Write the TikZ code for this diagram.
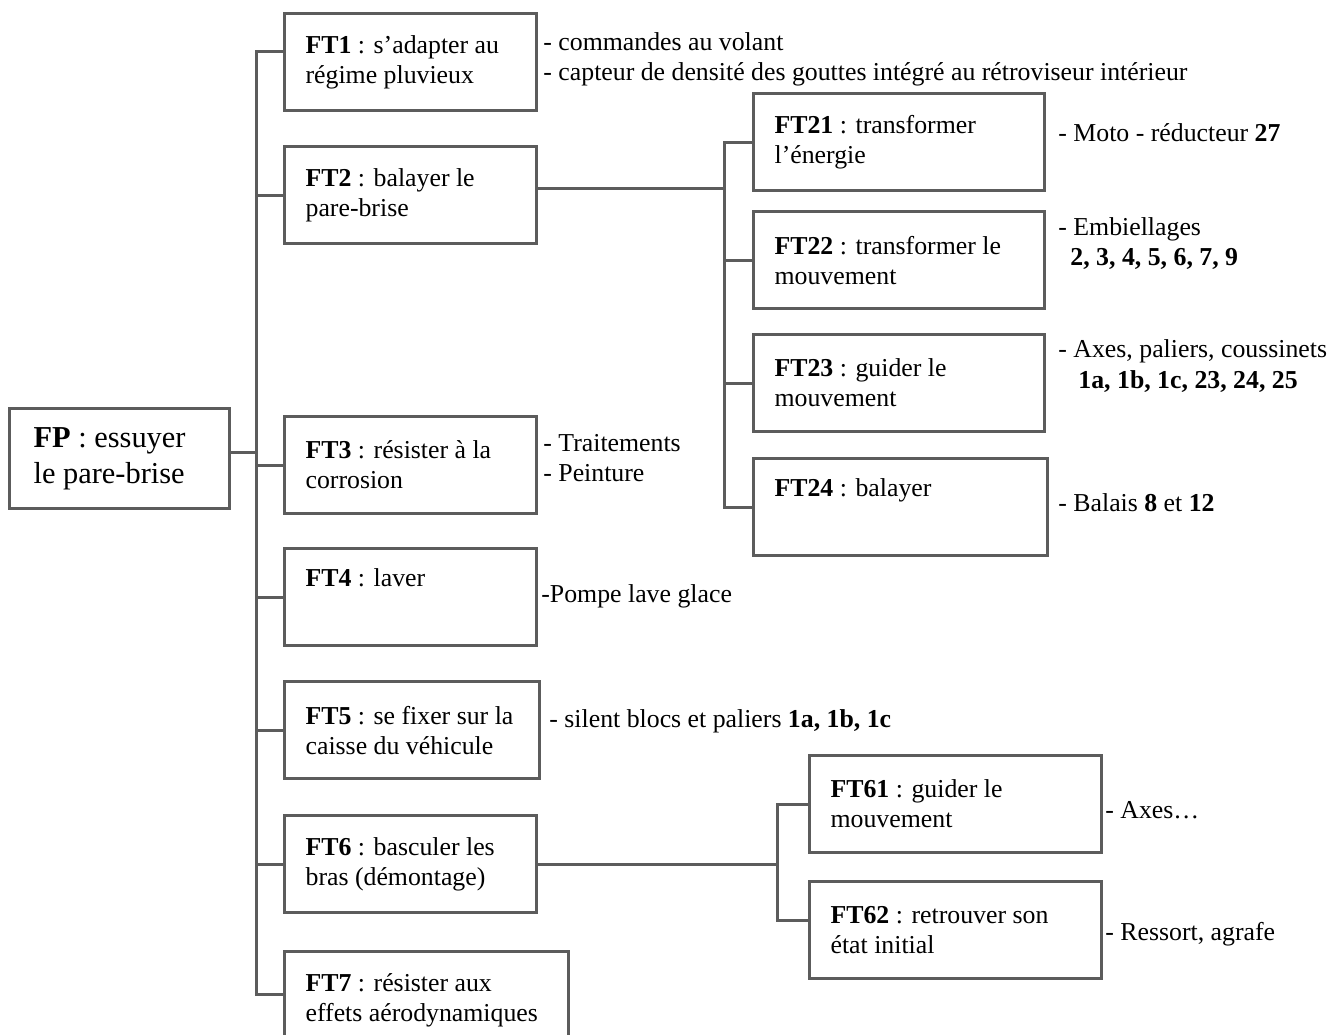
\documentclass[tikz,border=0pt]{standalone}
\usepackage{fontspec}
\setmainfont{Liberation Serif}
\definecolor{scangray}{gray}{0.36}
\newcommand{\boxfont}{\fontsize{12.9}{15}\selectfont}
\begin{document}
\begin{tikzpicture}[x=0.5pt, y=-0.5pt,
  fbox/.style={draw=scangray, line width=1.6pt, anchor=north west, minimum height=48.5pt, inner xsep=10.5pt, align=flush left, font=\boxfont},
  link/.style={draw=scangray, line width=1.5pt, line cap=rect},
  note/.style={anchor=base west, inner sep=0pt, font=\boxfont}]
\useasboundingbox (0,0) rectangle (1341,1035);
\clip (0,0) rectangle (1341,1035);
%main function:
\node[fbox, text width=86pt, inner xsep=12pt, minimum height=50pt, font=\fontsize{15.2}{18}\selectfont] (fp) at (8,407) {\textbf{FP} : essuyer\\le pare-brise};
%technical functions:
\node[fbox, text width=105pt] (ft1) at (283,12) {\textbf{FT1} : s’adapter au\\régime pluvieux};
\node[fbox, text width=105pt] (ft2) at (283,145) {\textbf{FT2} : balayer le\\pare-brise};
\node[fbox, text width=105pt] (ft3) at (283,415) {\textbf{FT3} : résister à la\\corrosion};
\node[fbox, text width=105pt] (ft4) at (283,547) {\textbf{FT4} : laver\\\strut};
\node[fbox, text width=106.5pt] (ft5) at (283,680) {\textbf{FT5} : se fixer sur la\\caisse du véhicule};
\node[fbox, text width=105pt] (ft6) at (283,814) {\textbf{FT6} : basculer les\\bras (démontage)};
\node[fbox, text width=121pt] (ft7) at (283,950) {\textbf{FT7} : résister aux\\effets aérodynamiques};
%sub-functions of FT2:
\node[fbox, text width=124.5pt] (ft21) at (752,92) {\textbf{FT21} : transformer\\l’énergie};
\node[fbox, text width=124.5pt] (ft22) at (752,210) {\textbf{FT22} : transformer le\\mouvement};
\node[fbox, text width=124.5pt] (ft23) at (752,333) {\textbf{FT23} : guider le\\mouvement};
\node[fbox, text width=126pt] (ft24) at (752,457) {\textbf{FT24} : balayer\\\strut};
%sub-functions of FT6:
\node[fbox, text width=125pt] (ft61) at (808,754) {\textbf{FT61} : guider le\\mouvement};
\node[fbox, text width=125pt] (ft62) at (808,880) {\textbf{FT62} : retrouver son\\état initial};
%main bus:
\coordinate (bus) at (256,0);
\coordinate (a0) at ([yshift=3pt]fp.east);
\coordinate (a1) at ([yshift=5.5pt]ft1.west);
\coordinate (a7) at ([yshift=2.75pt]ft7.west);
\draw[link] (a0) -- (bus |- a0);
\draw[link] (a1) -- (bus |- a1) -- (bus |- a7) -- (a7);
\foreach \n in {ft2,ft3,ft4,ft5,ft6}
  \draw[link] (bus |- \n.west) -- (\n.west);
%bus of FT2:
\coordinate (bus2) at (724,0);
\coordinate (a2) at ([yshift=3.5pt]ft2.east);
\draw[link] (a2) -- (bus2 |- a2);
\draw[link] (ft21.west) -- (bus2 |- ft21.west) -- (bus2 |- ft24.west) -- (ft24.west);
\foreach \n in {ft22,ft23}
  \draw[link] (bus2 |- \n.west) -- (\n.west);
%bus of FT6:
\coordinate (bus6) at (777,0);
\coordinate (a62) at ([yshift=5pt]ft62.west);
\draw[link] (ft6.east) -- (bus6 |- ft6.east);
\draw[link] (ft61.west) -- (bus6 |- ft61.west) -- (bus6 |- a62) -- (a62);
%solutions:
\node[note] (n1a) at (543,50) {- commandes au volant};
\node[note] (n1b) at (543,80) {- capteur de densité des gouttes intégré au rétroviseur intérieur};
\node[note] (n21) at (1058,141) {- Moto - réducteur \textbf{27}};
\node[note] (n22a) at (1058,235) {- Embiellages};
\node[note] (n22b) at (1070,265) {\textbf{2, 3, 4, 5, 6, 7, 9}};
\node[note] (n23a) at (1058,357) {- Axes, paliers, coussinets};
\node[note] (n23b) at (1078,388) {\textbf{1a, 1b, 1c, 23, 24, 25}};
\node[note] (n24) at (1058,511) {- Balais \textbf{8} et \textbf{12}};
\node[note] (n3a) at (543,451) {- Traitements};
\node[note] (n3b) at (543,481) {- Peinture};
\node[note] (n4) at (541,602) {-Pompe lave glace};
\node[note] (n5) at (549,727) {- silent blocs et paliers \textbf{1a, 1b, 1c}};
\node[note] (n61) at (1105,818) {- Axes…};
\node[note] (n62) at (1105,940) {- Ressort, agrafe};
\end{tikzpicture}
\end{document}
